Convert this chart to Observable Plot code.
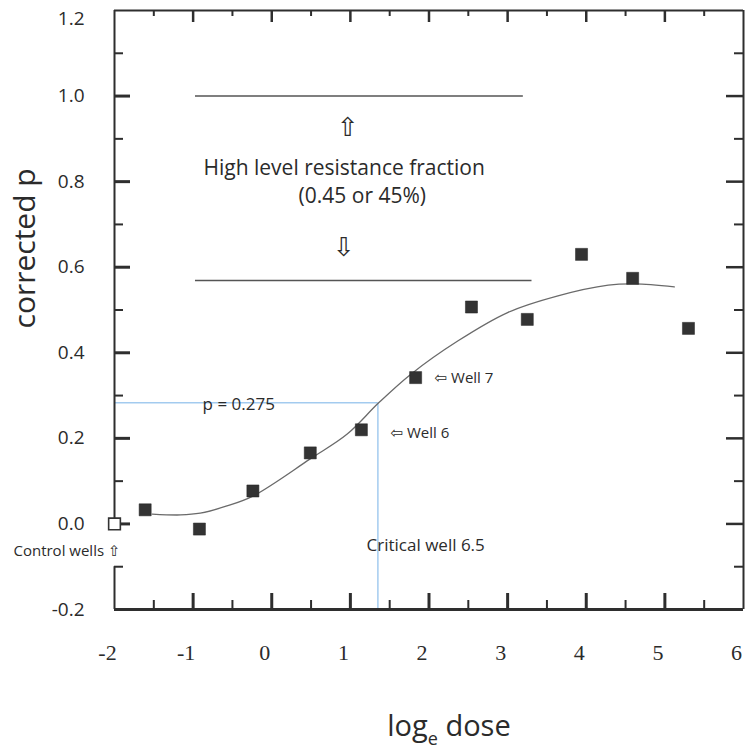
<!DOCTYPE html>
<html>
<head>
<meta charset="utf-8">
<script src="https://cdn.jsdelivr.net/npm/d3@7"></script>
<script src="https://cdn.jsdelivr.net/npm/@observablehq/plot@0.6"></script>
<style>
  html, body { margin: 0; padding: 0; background: #fff; }
  #chart { width: 748px; height: 753px; }
</style>
</head>
<body>
<div id="chart"></div>
<script>
// ---- data ----
const pointX = [-1.61, -0.92, -0.24, 0.49, 1.14, 1.83, 2.54, 3.25, 3.94, 4.59, 5.30];
const pointY = [0.033, -0.012, 0.077, 0.166, 0.220, 0.342, 0.507, 0.478, 0.630, 0.574, 0.457];
const controlX = [-2];
const controlY = [0.0];
const curveX = [-1.52, -1.16, -0.91, -0.57, -0.24, 0.49, 0.96, 1.36, 1.77, 2.37, 3.00, 3.64, 4.28, 4.62, 5.12];
const curveY = [0.023, 0.021, 0.025, 0.042, 0.065, 0.152, 0.210, 0.283, 0.350, 0.428, 0.494, 0.533, 0.558, 0.561, 0.554];
const fractionLineY = [1.0, 0.569];
const fractionLineX1 = [-0.97, -0.97];
const fractionLineX2 = [3.20, 3.31];
const criticalP = 0.283;
const criticalX = 1.35;

const xTickValues = [-2, -1, 0, 1, 2, 3, 4, 5, 6];
const xTickLabels = ["-2", "-1", "0", "1", "2", "3", "4", "5", "6"];
const xMajorTicks = [-1, 0, 1, 2, 3, 4, 5];
const xMinorTicks = [-1.5, -0.5, 0.5, 1.5, 2.5, 3.5, 4.5, 5.5];
const yTickValues = [-0.2, 0, 0.2, 0.4, 0.6, 0.8, 1.0, 1.2];
const yTickLabels = ["-0.2", "0.0", "0.2", "0.4", "0.6", "0.8", "1.0", "1.2"];
const yMajorTicks = [0, 0.2, 0.4, 0.6, 0.8, 1.0];
const yMinorTicks = [-0.1, 0.1, 0.3, 0.5, 0.7, 0.9, 1.1];

const noteText = ["High level resistance fraction", "(0.45 or 45%)", "p = 0.275", "\u21E6 Well 6", "\u21E6 Well 7", "Critical well 6.5", "Control wells \u21E7"];
const noteX = [-0.868, 0.341, -0.880, 1.511, 2.071, 1.206, -3.285];
const noteY = [0.832, 0.766, 0.279, 0.212, 0.340, -0.050, -0.064];
const noteSize = [21, 21, 17, 15, 15, 17, 15];
const arrowText = ["\u21E7", "\u21E9"];
const arrowX = [0.964, 0.913];
const arrowY = [0.926, 0.646];
const yLabel = "corrected p";
const yLabelPos = [-3.132, 0.644];
const xLabelParts = ["log", "e", " dose"];
const xLabelPos = [1.469, -0.473];

// ---- tables ----
const points = pointX.map((x, i) => ({x, y: pointY[i]}));
const control = controlX.map((x, i) => ({x, y: controlY[i]}));
const curve = curveX.map((x, i) => ({x, y: curveY[i]}));
const fractionLines = fractionLineY.map((y, i) => ({y, x1: fractionLineX1[i], x2: fractionLineX2[i]}));
const notes = noteText.map((t, i) => ({t, x: noteX[i], y: noteY[i], s: noteSize[i]}));
const arrows = arrowText.map((t, i) => ({t, x: arrowX[i], y: arrowY[i]}));

const SANS = "'Open Sans', 'DejaVu Sans', sans-serif";
const INK = "#2b2b2b";
const FRAME = "#2e2e2e";

const W = 748, H = 753, MT = 10, ML = 114, MR = 5, MB = 144;
const PW = W - ML - MR, PH = H - MT - MB;
const yLabelFmt = d => yTickLabels[yTickValues.indexOf(d)];

const plot = Plot.plot({
  width: W,
  height: H,
  marginTop: MT,
  marginLeft: ML,
  marginRight: MR,
  marginBottom: MB,
  x: {domain: [-2, 6]},
  y: {domain: [-0.2, 1.2]},
  style: {background: "#fff", color: INK, fontFamily: SANS, overflow: "visible"},
  marks: [
    // tick labels
    Plot.axisY(yTickValues.filter(d => d < 1.1), {anchor: "left", tickSize: 0, tickPadding: 30, stroke: "none", fill: INK,
      tickFormat: yLabelFmt, fontSize: 19, fontFamily: SANS, label: null}),
    Plot.axisY(yTickValues.filter(d => d > 1.1), {anchor: "left", tickSize: 0, tickPadding: 30, stroke: "none", fill: INK, dy: 8,
      tickFormat: yLabelFmt, fontSize: 19, fontFamily: SANS, label: null}),
    Plot.axisX(xTickValues, {anchor: "bottom", tickSize: 0, tickPadding: 35, stroke: "none", fill: INK, dx: -7,
      tickFormat: d => xTickLabels[xTickValues.indexOf(d)], fontSize: 22, fontFamily: "'Liberation Serif', serif", label: null}),
    // critical lines
    Plot.ruleY([criticalP], {x1: -2, x2: criticalX, stroke: "#a3cbef", strokeWidth: 1.5}),
    Plot.ruleX([criticalX], {y1: -0.2, y2: criticalP, stroke: "#a3cbef", strokeWidth: 1.5}),
    // fraction lines
    Plot.ruleY(fractionLines, {y: "y", x1: "x1", x2: "x2", stroke: "#555", strokeWidth: 1.4}),
    // fitted curve
    Plot.line(curve, {x: "x", y: "y", curve: "catmull-rom", stroke: "#6a6a6a", strokeWidth: 1.3}),
    // annotations
    Plot.text(notes, {x: "x", y: "y", text: "t", fontSize: "s", textAnchor: "start", lineAnchor: "middle", fill: INK, fontFamily: SANS, clip: false}),
    Plot.text(arrows, {x: "x", y: "y", text: "t", fontSize: 26, textAnchor: "middle", lineAnchor: "middle", fill: INK, fontFamily: "'DejaVu Sans', sans-serif"}),
    Plot.text([yLabel], {x: () => yLabelPos[0], y: () => yLabelPos[1], text: d => d, rotate: -90, fontSize: 30, textAnchor: "middle", lineAnchor: "middle", fill: INK, fontFamily: SANS}),
    Plot.text([xLabelParts[0]], {x: () => xLabelPos[0], y: () => xLabelPos[1], text: d => d, fontSize: 29, textAnchor: "start", lineAnchor: "middle", fill: INK, fontFamily: SANS}),
    // frame
    Plot.ruleY([1.2], {x1: -2, x2: 6, stroke: FRAME, strokeWidth: 2}),
    Plot.ruleY([-0.2], {x1: -2, x2: 6, stroke: FRAME, strokeWidth: 3}),
    Plot.ruleX([6], {y1: -0.2, y2: 1.2, stroke: FRAME, strokeWidth: 2}),
    Plot.ruleX([{y1: -0.015, y2: 1.2}, {y1: -0.2, y2: -0.1}], {x: () => -2, y1: "y1", y2: "y2", stroke: FRAME, strokeWidth: 2}),
    // inward ticks (left, right, bottom, top)
    Plot.tickY(yMajorTicks, {y: d => d, insetRight: PW - 16, stroke: FRAME, strokeWidth: 3}),
    Plot.tickY(yMinorTicks, {y: d => d, insetRight: PW - 9, stroke: FRAME, strokeWidth: 2}),
    Plot.tickY(yMajorTicks, {y: d => d, insetLeft: PW - 17, stroke: FRAME, strokeWidth: 2.5}),
    Plot.tickY(yMinorTicks, {y: d => d, insetLeft: PW - 9, stroke: FRAME, strokeWidth: 2}),
    Plot.tickX(xMajorTicks, {x: d => d, insetTop: PH - 16, stroke: FRAME, strokeWidth: 3}),
    Plot.tickX(xMinorTicks, {x: d => d, insetTop: PH - 9, stroke: FRAME, strokeWidth: 2}),
    Plot.tickX(xMajorTicks, {x: d => d, insetBottom: PH - 12, stroke: FRAME, strokeWidth: 2.5}),
    Plot.tickX(xMinorTicks, {x: d => d, insetBottom: PH - 6, stroke: FRAME, strokeWidth: 2}),
    // points
    Plot.dot(points, {x: "x", y: "y", symbol: "square", r: 6.8, fill: "#333", stroke: "#222", strokeWidth: 0.5}),
    Plot.dot(control, {x: "x", y: "y", symbol: "square", r: 6.6, fill: "#fff", stroke: "#333", strokeWidth: 1.6})
  ]
});

// subscript for the x label
const xl = Array.from(plot.querySelectorAll("text")).find(t => t.textContent === xLabelParts[0]);
if (xl) {
  const ns = "http://www.w3.org/2000/svg";
  const sub = document.createElementNS(ns, "tspan");
  sub.setAttribute("dy", "9");
  sub.setAttribute("font-size", "18");
  sub.textContent = xLabelParts[1];
  const rest = document.createElementNS(ns, "tspan");
  rest.setAttribute("dy", "-9");
  rest.textContent = xLabelParts[2];
  xl.appendChild(sub);
  xl.appendChild(rest);
}

document.getElementById("chart").appendChild(plot);
</script>
</body>
</html>
